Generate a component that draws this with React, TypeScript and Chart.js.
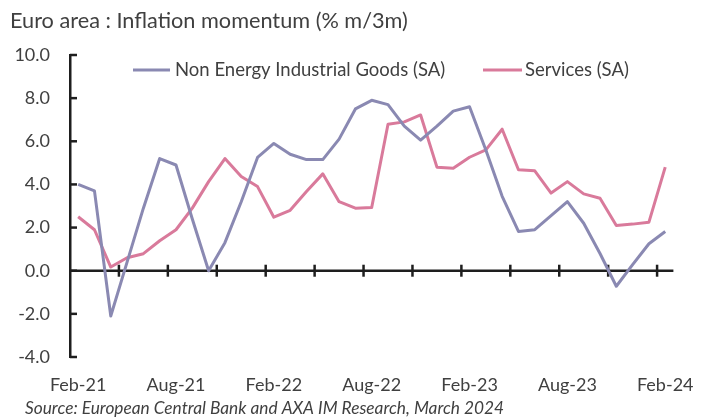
import React, { useEffect, useRef } from "react";
import { Chart, registerables } from "chart.js";

Chart.register(...registerables);

const months = [
  "Feb-21", "Mar-21", "Apr-21", "May-21", "Jun-21", "Jul-21", "Aug-21", "Sep-21", "Oct-21", "Nov-21", "Dec-21",
  "Jan-22", "Feb-22", "Mar-22", "Apr-22", "May-22", "Jun-22", "Jul-22", "Aug-22", "Sep-22", "Oct-22", "Nov-22", "Dec-22",
  "Jan-23", "Feb-23", "Mar-23", "Apr-23", "May-23", "Jun-23", "Jul-23", "Aug-23", "Sep-23", "Oct-23", "Nov-23", "Dec-23",
  "Jan-24", "Feb-24",
];

const neig = [
  4.0, 3.7, -2.1, 0.4, 2.9, 5.2, 4.9, 2.4, 0.0, 1.3, 3.2,
  5.25, 5.9, 5.4, 5.15, 5.15, 6.1, 7.5, 7.9, 7.7, 6.7, 6.05, 6.7,
  7.4, 7.6, 5.6, 3.45, 1.82, 1.9, 2.55, 3.2, 2.2, 0.8, -0.72, 0.28,
  1.25, 1.82,
];

const services = [
  2.5, 1.9, 0.17, 0.6, 0.79, 1.39, 1.9, 2.9, 4.13, 5.2, 4.37,
  3.9, 2.48, 2.8, 3.67, 4.49, 3.2, 2.9, 2.93, 6.79, 6.9, 7.22, 4.8,
  4.75, 5.26, 5.6, 6.56, 4.68, 4.63, 3.6, 4.13, 3.56, 3.36, 2.1, 2.16,
  2.25, 4.8,
];

const seriesNames = ["Non Energy Industrial Goods (SA)", "Services (SA)"];
const titleText = "Euro area : Inflation momentum (% m/3m)";
const sourceText = "Source: European Central Bank and AXA IM Research, March 2024";

const NEIG_COLOR = "#8a89b2";
const SERV_COLOR = "#d97a9b";
const TEXT_COLOR = "#404040";
const AXIS_COLOR = "#1e1e1e";
const FONT = "Lato";

const decor = {
  id: "decor",
  beforeDatasetsDraw(chart: any) {
    const { ctx, chartArea, scales } = chart;
    const x = scales.x;
    const y = scales.y;
    const y0 = y.getPixelForValue(0);
    ctx.save();
    ctx.strokeStyle = AXIS_COLOR;
    ctx.lineWidth = 2.5;
    ctx.beginPath();
    ctx.moveTo(chartArea.left, y0);
    ctx.lineTo(chartArea.right, y0);
    ctx.stroke();
    const step = x.getPixelForValue(1) - x.getPixelForValue(0);
    for (let i = 3; i < months.length; i += 3) {
      const px = x.getPixelForValue(i) - step / 2;
      ctx.beginPath();
      ctx.moveTo(px, y0 - 6);
      ctx.lineTo(px, y0 + 6);
      ctx.stroke();
    }
    for (let v = -4; v <= 10; v += 2) {
      const py = y.getPixelForValue(v);
      ctx.beginPath();
      ctx.moveTo(chartArea.left, py);
      ctx.lineTo(chartArea.left + 7, py);
      ctx.stroke();
    }
    ctx.restore();
  },
  afterDraw(chart: any) {
    const { ctx } = chart;
    ctx.save();
    ctx.fillStyle = TEXT_COLOR;
    ctx.textBaseline = "alphabetic";
    ctx.textAlign = "left";
    ctx.font = `21.7px ${FONT}`;
    ctx.fillText(titleText, 10, 28);

    ctx.font = `18.5px ${FONT}`;
    ctx.lineWidth = 3;
    ctx.strokeStyle = NEIG_COLOR;
    ctx.beginPath();
    ctx.moveTo(133, 70);
    ctx.lineTo(170, 70);
    ctx.stroke();
    ctx.fillText(seriesNames[0], 175, 76);
    ctx.strokeStyle = SERV_COLOR;
    ctx.beginPath();
    ctx.moveTo(483, 70);
    ctx.lineTo(522, 70);
    ctx.stroke();
    ctx.fillText(seriesNames[1], 525, 76);

    ctx.font = `italic 17.3px ${FONT}`;
    ctx.fillText(sourceText, 25, 414);
    ctx.restore();
  },
};

export default function App() {
  const canvasRef = useRef<HTMLCanvasElement | null>(null);

  useEffect(() => {
    const canvas = canvasRef.current;
    if (!canvas) return;
    const chart = new Chart(canvas, {
      type: "line",
      data: {
        labels: months,
        datasets: [
          {
            label: seriesNames[0],
            data: neig,
            borderColor: NEIG_COLOR,
            backgroundColor: NEIG_COLOR,
            borderWidth: 3,
            pointRadius: 0,
            tension: 0,
            borderJoinStyle: "round",
          },
          {
            label: seriesNames[1],
            data: services,
            borderColor: SERV_COLOR,
            backgroundColor: SERV_COLOR,
            borderWidth: 3,
            pointRadius: 0,
            tension: 0,
            borderJoinStyle: "round",
          },
        ],
      },
      options: {
        responsive: false,
        animation: false,
        layout: { padding: { left: 0, right: 36, top: 55, bottom: 21 } },
        plugins: {
          legend: { display: false },
          title: { display: false },
          tooltip: { enabled: false },
        },
        scales: {
          x: {
            type: "category",
            offset: true,
            grid: { display: false, drawTicks: false },
            border: { display: false },
            afterFit: (s: any) => {
              s.height = 40;
            },
            ticks: {
              autoSkip: false,
              maxRotation: 0,
              minRotation: 0,
              padding: 17,
              color: TEXT_COLOR,
              font: { family: FONT, size: 18 },
              callback: (_v: any, i: number) => (i % 6 === 0 ? months[i] : ""),
            },
          },
          y: {
            min: -4,
            max: 10,
            grid: { display: false, drawTicks: false },
            border: { display: true, color: AXIS_COLOR, width: 2.5 },
            afterFit: (s: any) => {
              s.width = 70;
            },
            ticks: {
              stepSize: 2,
              padding: 20,
              color: TEXT_COLOR,
              font: { family: FONT, size: 18 },
              callback: (v: any) => Number(v).toFixed(1),
            },
          },
        },
      },
      plugins: [decor],
    });
    return () => chart.destroy();
  }, []);

  return (
    <div style={{ position: "absolute", left: 0, top: 0, width: 711, height: 418, background: "#fff" }}>
      <canvas ref={canvasRef} width={711} height={418} />
    </div>
  );
}
